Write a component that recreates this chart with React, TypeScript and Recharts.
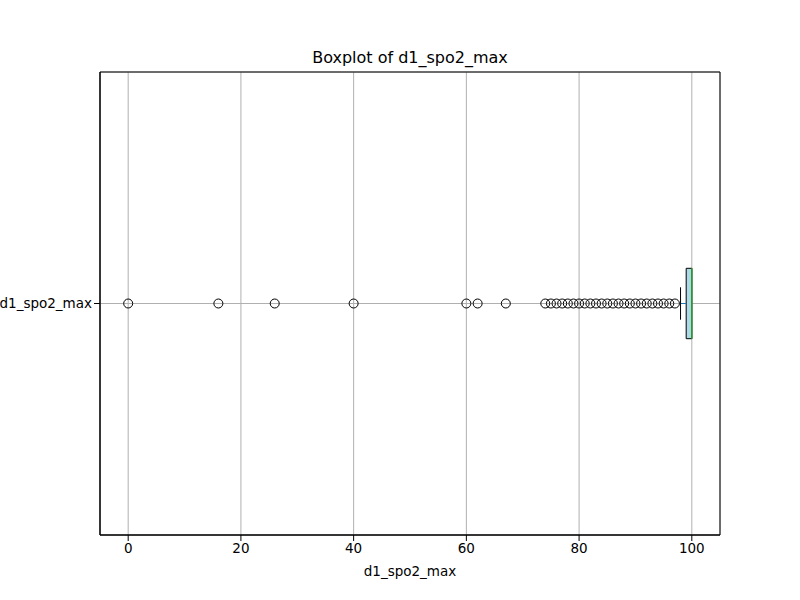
import {
  ComposedChart, Scatter, XAxis, YAxis, CartesianGrid, ReferenceArea, ReferenceLine,
} from "recharts";

const outliers = [0, 16, 26, 40, 60, 62, 67, 74, 75, 76, 77, 78, 79, 80, 81, 82, 83, 84, 85, 86, 87, 88, 89, 90, 91, 92, 93, 94, 95, 96, 97];
const xTicks = [0, 20, 40, 60, 80, 100];
const box = { whiskerLow: 98, q1: 99, median: 100, q3: 100, whiskerHigh: 100 };
const seriesName = "d1_spo2_max";

const points = outliers.map((v) => ({ x: v, y: 1 }));
const font = "DejaVu Sans, sans-serif";

const Ring = (p: any) => <circle cx={p.cx} cy={p.cy} r={4.5} fill="none" stroke="#000" strokeWidth={1} />;

export default function App() {
  return (
    <div style={{ position: "fixed", left: 0, top: 0, width: 800, height: 600, background: "#fff", fontFamily: font }}>
      <div style={{ position: "absolute", top: 48, width: 820, textAlign: "center", fontSize: 16 }}>Boxplot of {seriesName}</div>
      <ComposedChart width={800} height={600} data={points} margin={{ top: 72, right: 80, left: 0, bottom: 0 }}>
        <CartesianGrid stroke="#b0b0b0" strokeWidth={1} horizontal vertical />
        <XAxis type="number" dataKey="x" domain={[-5, 105]} ticks={xTicks} height={65}
          tick={{ fill: "#000", fontSize: 13.5, fontFamily: font }} tickLine={{ stroke: "#000" }} axisLine={{ stroke: "#000" }}
          label={{ value: seriesName, position: "insideBottom", offset: 24, fill: "#000", fontSize: 13.5, fontFamily: font }} />
        <YAxis type="number" dataKey="y" domain={[0.5, 1.5]} ticks={[1]} width={100}
          tickFormatter={() => seriesName}
          tick={{ fill: "#000", fontSize: 13.5, fontFamily: font }} tickLine={{ stroke: "#000" }} axisLine={{ stroke: "#000" }} />
        <ReferenceArea x1={-5} x2={105} y1={0.5} y2={1.5} fill="none" stroke="#000" strokeOpacity={1} />
        <ReferenceLine segment={[{ x: box.whiskerLow, y: 1 }, { x: box.q1, y: 1 }]} stroke="#1f77b4" />
        <ReferenceLine segment={[{ x: box.whiskerLow, y: 0.965 }, { x: box.whiskerLow, y: 1.035 }]} stroke="#000" />
        <ReferenceArea x1={box.q1} x2={box.q3} y1={0.924} y2={1.076} fill="#add8e6" fillOpacity={1} stroke="#000" strokeOpacity={1} />
        <ReferenceLine segment={[{ x: box.median, y: 0.924 }, { x: box.median, y: 1.076 }]} stroke="#2ca02c" strokeWidth={1.5} />
        <Scatter dataKey="y" shape={Ring} isAnimationActive={false} />
      </ComposedChart>
    </div>
  );
}
